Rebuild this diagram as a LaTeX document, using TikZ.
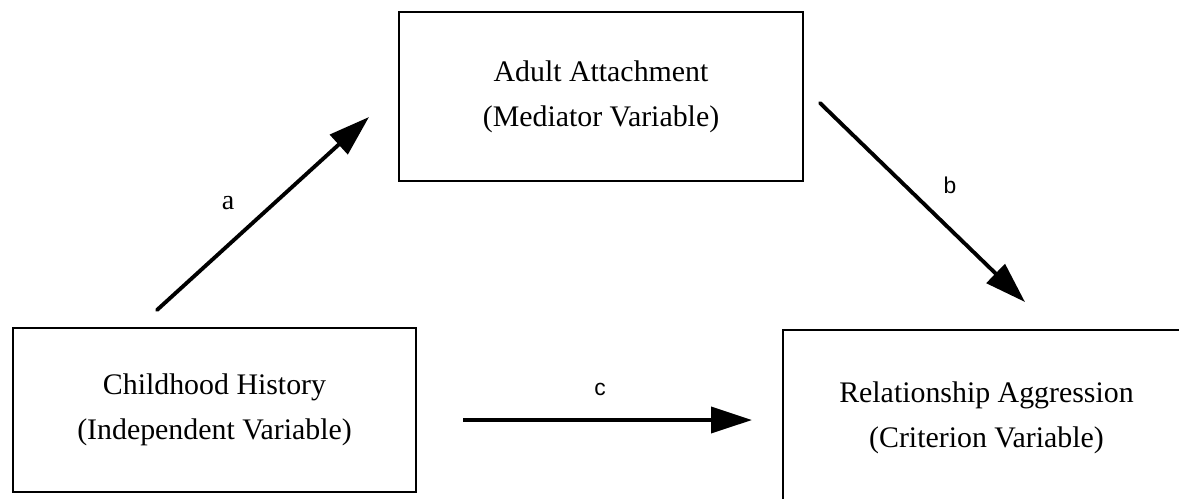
\documentclass[tikz,border=0pt]{standalone}
\usepackage{fontspec}
\setmainfont{Liberation Serif}
\newfontfamily\pathsans{Liberation Sans}
\usepackage{tikz}
\usetikzlibrary{arrows.meta}
\tikzset{
  varbox/.style={draw, line width=1.3pt, align=center, inner sep=0pt,
    font=\fontsize{17}{25.6}\selectfont},
  patharrow/.style={line width=2.2pt, -{Triangle[length=0.82cm, width=0.52cm]}},
}

\begin{document}
\begin{tikzpicture}[x=0.02cm, y=-0.02cm]
\useasboundingbox (0,0) rectangle (1179,498);
\node[varbox, minimum width=8.08cm, minimum height=3.38cm] (attach) at (601,96.5)
  {Adult Attachment\\(Mediator Variable)};
\node[varbox, minimum width=8.06cm, minimum height=3.28cm] (history) at (214.5,410)
  {Childhood History\\(Independent Variable)};
\node[varbox, minimum width=8.14cm, minimum height=3.5cm] (aggress) at (986.5,417.5)
  {Relationship Aggression\\(Criterion Variable)};
\coordinate (aStart) at (157,310);
\coordinate (aEnd) at (369,117);
\coordinate (bStart) at (820,103);
\coordinate (bEnd) at (1025,302);
\coordinate (cStart) at (463,420);
\coordinate (cEnd) at (752,420);
\draw [patharrow, line cap=round] (aStart)--(aEnd);
\draw [patharrow, line cap=round] (bStart)--(bEnd);
\draw [patharrow] (cStart)--(cEnd);
\node[font=\fontsize{16}{18}\selectfont] (lblA) at (228,203) {a};
\node[font=\pathsans\fontsize{13}{15}\selectfont] (lblB) at (950,185) {b};
\node[font=\pathsans\fontsize{13}{15}\selectfont] (lblC) at (600,389) {c};
\end{tikzpicture}
\end{document}
